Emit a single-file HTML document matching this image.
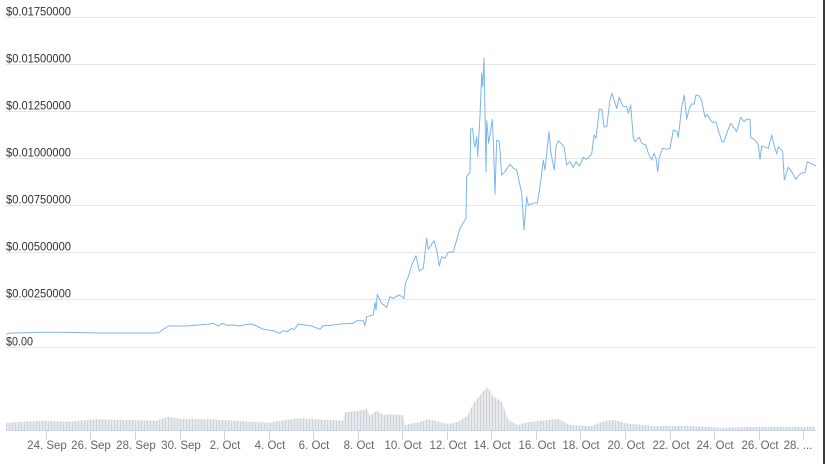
<!DOCTYPE html>
<html><head><meta charset="utf-8"><style>
html,body{margin:0;padding:0;background:#fff;}
svg{display:block;}
</style></head><body>
<svg width="825" height="464" viewBox="0 0 825 464" xmlns="http://www.w3.org/2000/svg">
<defs>
<pattern id="vb" x="0" y="0" width="3" height="10" patternUnits="userSpaceOnUse">
<rect x="0" y="0" width="3" height="10" fill="#e8e9ec"/>
<rect x="0" y="0" width="1" height="10" fill="#d0d2d7"/>
</pattern>
</defs>
<rect width="825" height="464" fill="#fff"/>
<g stroke="#e6e6e6" stroke-width="1">
<line x1="6" y1="17.5" x2="816" y2="17.5"/>
<line x1="6" y1="64.5" x2="816" y2="64.5"/>
<line x1="6" y1="111.5" x2="816" y2="111.5"/>
<line x1="6" y1="158.5" x2="816" y2="158.5"/>
<line x1="6" y1="205.5" x2="816" y2="205.5"/>
<line x1="6" y1="252.5" x2="816" y2="252.5"/>
<line x1="6" y1="299.5" x2="816" y2="299.5"/>
<line x1="6" y1="347.5" x2="816" y2="347.5"/>
</g>
<g font-family="Liberation Sans, sans-serif" font-size="12" fill="#333">
<text x="6" y="15.5" textLength="65" lengthAdjust="spacingAndGlyphs">$0.01750000</text>
<text x="6" y="62.5" textLength="65" lengthAdjust="spacingAndGlyphs">$0.01500000</text>
<text x="6" y="109.5" textLength="65" lengthAdjust="spacingAndGlyphs">$0.01250000</text>
<text x="6" y="156.5" textLength="65" lengthAdjust="spacingAndGlyphs">$0.01000000</text>
<text x="6" y="203.5" textLength="65" lengthAdjust="spacingAndGlyphs">$0.00750000</text>
<text x="6" y="250.5" textLength="65" lengthAdjust="spacingAndGlyphs">$0.00500000</text>
<text x="6" y="297.5" textLength="65" lengthAdjust="spacingAndGlyphs">$0.00250000</text>
<text x="6" y="345.5" textLength="27" lengthAdjust="spacingAndGlyphs">$0.00</text>
</g>
<polygon fill="url(#vb)" points="6,422.7 43,420.7 66.7,421.7 96.7,419.3 156.7,420.7 168.3,416.7 180,418.7 210,419.3 253.3,421.7 266.7,422.7 298.3,418.3 343.3,420.7 345,412.3 363.3,410 366.7,408.3 370,416 376.7,410.7 383.3,415 390,414 403.3,415 405,425 420,421.7 428.3,419.3 448,424 458,422 468,415 473,404 481.7,393 487.7,387.3 493.3,396.7 501.7,401.7 508.3,420 518,425 526.7,422.3 548.3,420 558.3,418.7 570,425 591.7,426 605,420.7 615,420 625,423.3 655,426 688,425.7 721.7,427.7 758,426.7 815,426.7 815,430 6,430"/>
<line x1="6" y1="430.5" x2="816" y2="430.5" stroke="#ccd6eb" stroke-width="1"/>
<g stroke="#ccd6eb" stroke-width="1">
<line x1="46.5" y1="430" x2="46.5" y2="440"/>
<line x1="90.5" y1="430" x2="90.5" y2="440"/>
<line x1="135.5" y1="430" x2="135.5" y2="440"/>
<line x1="180.5" y1="430" x2="180.5" y2="440"/>
<line x1="224.5" y1="430" x2="224.5" y2="440"/>
<line x1="269.5" y1="430" x2="269.5" y2="440"/>
<line x1="313.5" y1="430" x2="313.5" y2="440"/>
<line x1="358.5" y1="430" x2="358.5" y2="440"/>
<line x1="402.5" y1="430" x2="402.5" y2="440"/>
<line x1="447.5" y1="430" x2="447.5" y2="440"/>
<line x1="491.5" y1="430" x2="491.5" y2="440"/>
<line x1="536.5" y1="430" x2="536.5" y2="440"/>
<line x1="580.5" y1="430" x2="580.5" y2="440"/>
<line x1="625.5" y1="430" x2="625.5" y2="440"/>
<line x1="670.5" y1="430" x2="670.5" y2="440"/>
<line x1="714.5" y1="430" x2="714.5" y2="440"/>
<line x1="759.5" y1="430" x2="759.5" y2="440"/>
<line x1="803.5" y1="430" x2="803.5" y2="440"/>
</g>
<g font-family="Liberation Sans, sans-serif" font-size="11.5" fill="#666" text-anchor="middle">
<text x="47" y="449">24. Sep</text>
<text x="91" y="449">26. Sep</text>
<text x="136" y="449">28. Sep</text>
<text x="181" y="449">30. Sep</text>
<text x="225" y="449">2. Oct</text>
<text x="270" y="449">4. Oct</text>
<text x="314" y="449">6. Oct</text>
<text x="359" y="449">8. Oct</text>
<text x="403" y="449">10. Oct</text>
<text x="448" y="449">12. Oct</text>
<text x="492" y="449">14. Oct</text>
<text x="537" y="449">16. Oct</text>
<text x="581" y="449">18. Oct</text>
<text x="626" y="449">20. Oct</text>
<text x="671" y="449">22. Oct</text>
<text x="715" y="449">24. Oct</text>
<text x="760" y="449">26. Oct</text>
<text x="798" y="449">28. ...</text>
</g>
<polyline fill="none" stroke="#7cb5ec" stroke-width="1" stroke-linejoin="round" points="6,334.3 8.3,333.3 40,332.3 60,332.3 100,333 158.3,333 163.3,329.3 168.3,326 186.7,326 210,324 213.3,323.3 218.3,326 222.7,323.3 226.7,325.3 233.3,325 240,326 246.7,324.3 251.7,324 256.7,326 263.3,329.3 273.3,330.7 279.3,333.3 283.3,330.7 287.3,331.7 291.7,328.3 294,330 298.3,324 311.7,326 320,329.3 322.7,326 333.3,325 340,324 353.3,323.3 356.7,320.7 363.3,320.7 365,326 366.7,316.7 373.3,315 375,302.3 376,310 377.3,294.3 381.7,303.3 386.7,307.3 390,296.7 393.3,298.3 399.3,295 404,298.3 405.3,283.3 408.3,276.7 411.7,265 416,255.7 419.3,271 423.3,268.3 426.7,238.3 428.3,249.3 434,240.7 436.7,250 439.3,266 441.7,256.7 445,258.3 448.3,252.3 453.3,251.7 460,228.3 466,218.3 466.7,176.7 470,171.7 470.7,129.3 472.7,128.3 474,143.3 475,146.7 476.7,136.7 477.7,156.7 480,116 481.7,73.3 482.7,86.7 484,58.3 485.3,130 486,171.7 486.7,120.7 488.7,143.3 490.7,130 492.3,119.3 493.3,140 495,194 496.7,140 499.3,141.7 501.7,175 505,171.7 510,164 513.3,168.3 516.7,170 521.7,193.3 524,230 526.7,196.7 528.3,205 535,202.7 537.3,203.3 540.7,181.7 543.3,160 545,170 549,131.7 550.7,151.7 554.3,170 556,146.7 558.3,140.7 564,146.7 566.7,165 570,161.7 573.3,167.3 576,161.7 579.3,166 583.3,157.3 586.7,159.3 591.7,154 594,135 596,138.3 599.3,109.3 601.7,109.3 604,126.7 606.7,126.7 610,100 612,93.3 616.7,108.3 619.3,97.3 622.7,106 626.7,106.7 628.3,113.3 630.7,105 633.3,138.3 635,141.7 639.3,137.3 641.7,143.3 646,145 648.3,153.3 651.7,160 654,153.3 656,158.3 657.7,171.7 659.3,157.3 662.7,148.3 666.7,149.3 670,148.3 673.3,130 676.7,131.7 678.3,137.3 681.7,106.7 684.3,95 686.7,119.3 689.3,108.3 691.7,104 694,104 696,95 699.3,96 701.7,100.7 705,117.3 707.3,114.3 710,119.3 712.7,122.7 716,121.7 718.7,131.7 722,141.7 724,141.7 727.3,131.7 730.7,123.3 733.3,126.7 736.7,131.7 740.7,117.3 744,121.7 746.7,119.3 750,119.3 750.7,137.3 755,140 758.3,145 760,159.3 761.7,146 768.3,148.3 771.7,135 774,145 776.7,154 778.3,146.7 782.7,151.7 784.3,180 788.3,167.3 791.7,171.7 796,179.3 798.3,176 801.7,172.7 805,172.7 807.3,161.7 810.7,163.3 816,166"/>
<rect x="823" y="0" width="2" height="464" fill="#3a3a3a"/>
</svg>
</body></html>
